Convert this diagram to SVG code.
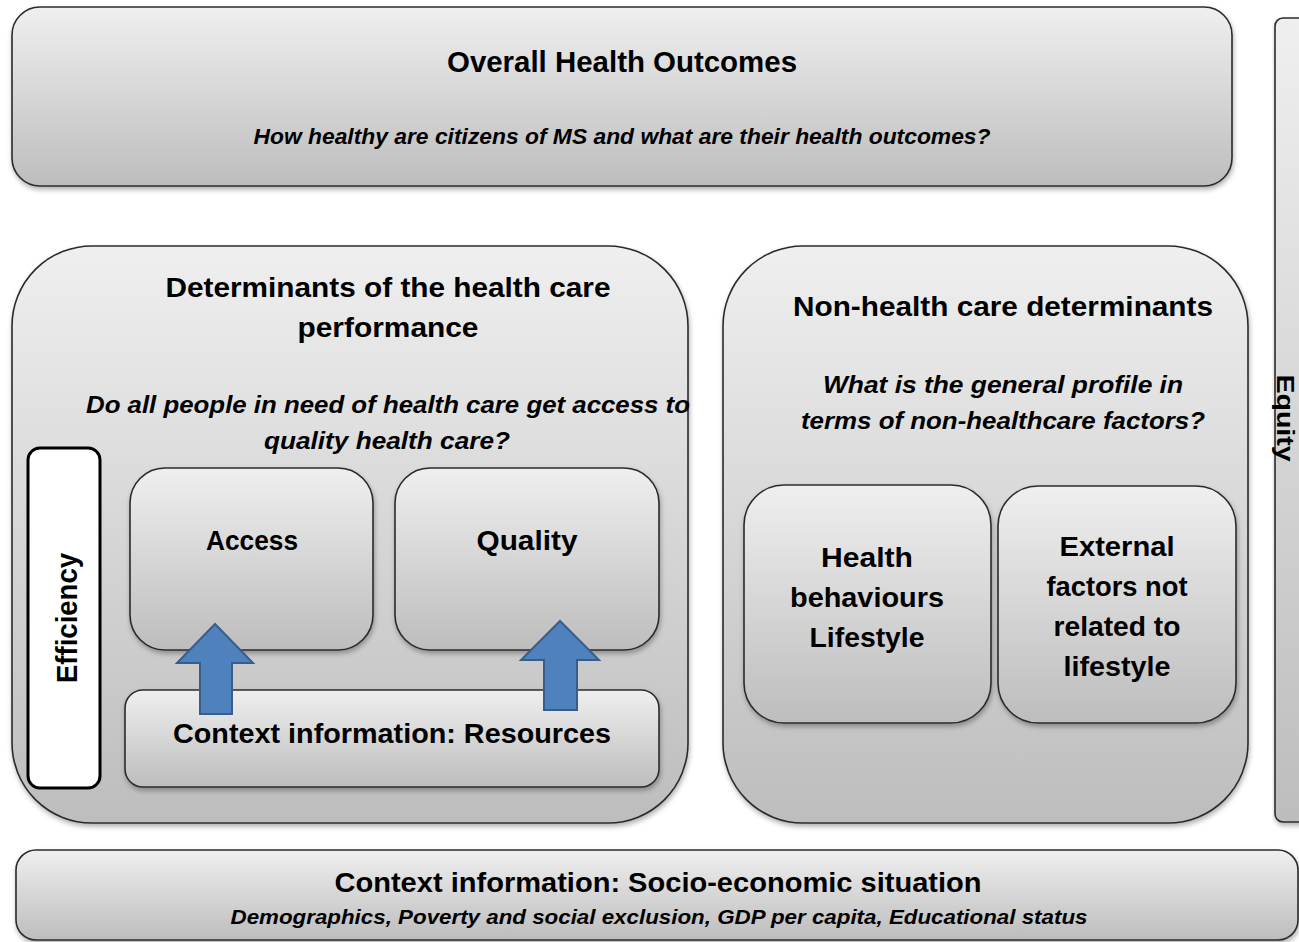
<svg xmlns="http://www.w3.org/2000/svg" width="1299" height="942" viewBox="0 0 1299 942">
<defs>
<linearGradient id="g" x1="0" y1="0" x2="0" y2="1">
<stop offset="0" stop-color="#efefef"/>
<stop offset="1" stop-color="#bdbdbd"/>
</linearGradient>
<filter id="sh" x="-5%" y="-5%" width="110%" height="115%">
<feDropShadow dx="1" dy="3" stdDeviation="2.5" flood-color="#000" flood-opacity="0.3"/>
</filter>
<style>
.box{fill:url(#g);stroke:#2b2b2b;stroke-width:1.6;filter:url(#sh)}
.t{font-family:"Liberation Sans",Arial,sans-serif;font-weight:bold;fill:#000;text-anchor:middle}
.q{font-family:"Liberation Sans",Arial,sans-serif;font-weight:bold;font-style:italic;fill:#000;text-anchor:middle}
.arrow{fill:#4f81bd;stroke:#385d8a;stroke-width:2}
</style>
</defs>
<rect width="1299" height="942" fill="#ffffff"/>

<g id="overall">
<rect class="box" x="12" y="7" width="1220" height="179" rx="28"/>
<text class="t" x="622" y="72" font-size="29" textLength="350" lengthAdjust="spacingAndGlyphs">Overall Health Outcomes</text>
<text class="q" x="622" y="144" font-size="22" textLength="737" lengthAdjust="spacingAndGlyphs">How healthy are citizens of MS and what are their health outcomes?</text>
</g>

<g id="equity">
<rect class="box" x="1275" y="18" width="60" height="804" rx="8"/>
<text class="t" x="1277" y="418" font-size="23" textLength="87" lengthAdjust="spacingAndGlyphs" transform="rotate(90 1277 418)">Equity</text>
</g>

<g id="determinants">
<rect class="box" x="12" y="246" width="676" height="577" rx="80"/>
<text class="t" x="388" y="297" font-size="28" textLength="445" lengthAdjust="spacingAndGlyphs">Determinants of the health care</text>
<text class="t" x="388" y="337" font-size="28" textLength="181" lengthAdjust="spacingAndGlyphs">performance</text>
<text class="q" x="388" y="413" font-size="23" textLength="604" lengthAdjust="spacingAndGlyphs">Do all people in need of health care get access to</text>
<text class="q" x="387" y="449" font-size="23" textLength="246" lengthAdjust="spacingAndGlyphs">quality health care?</text>
</g>

<g id="efficiency">
<rect x="28" y="448" width="72" height="340" rx="12" fill="#ffffff" stroke="#000" stroke-width="3"/>
<text class="t" x="77" y="618" font-size="30" textLength="130" lengthAdjust="spacingAndGlyphs" transform="rotate(-90 77 618)">Efficiency</text>
</g>

<g id="access">
<rect class="box" x="130" y="468" width="243" height="182" rx="35"/>
<text class="t" x="252" y="550" font-size="28" textLength="92" lengthAdjust="spacingAndGlyphs">Access</text>
</g>

<g id="quality">
<rect class="box" x="395" y="468" width="264" height="182" rx="35"/>
<text class="t" x="527" y="550" font-size="28" textLength="101" lengthAdjust="spacingAndGlyphs">Quality</text>
</g>

<g id="resources">
<rect class="box" x="125" y="690" width="534" height="97" rx="18"/>
<text class="t" x="392" y="743" font-size="28" textLength="438" lengthAdjust="spacingAndGlyphs">Context information: Resources</text>
</g>

<g id="nonhealth">
<rect class="box" x="723" y="246" width="525" height="577" rx="80"/>
<text class="t" x="1003" y="316" font-size="28" textLength="420" lengthAdjust="spacingAndGlyphs">Non-health care determinants</text>
<text class="q" x="1003" y="393" font-size="23" textLength="360" lengthAdjust="spacingAndGlyphs">What is the general profile in</text>
<text class="q" x="1003" y="429" font-size="23" textLength="404" lengthAdjust="spacingAndGlyphs">terms of non-healthcare factors?</text>
</g>

<g id="behaviours">
<rect class="box" x="744" y="485" width="247" height="238" rx="40"/>
<text class="t" x="867" y="567" font-size="28" textLength="92" lengthAdjust="spacingAndGlyphs">Health</text>
<text class="t" x="867" y="607" font-size="28" textLength="154" lengthAdjust="spacingAndGlyphs">behaviours</text>
<text class="t" x="867" y="647" font-size="28" textLength="115" lengthAdjust="spacingAndGlyphs">Lifestyle</text>
</g>

<g id="external">
<rect class="box" x="998" y="486" width="238" height="237" rx="40"/>
<text class="t" x="1117" y="556" font-size="28" textLength="115" lengthAdjust="spacingAndGlyphs">External</text>
<text class="t" x="1117" y="596" font-size="28" textLength="141" lengthAdjust="spacingAndGlyphs">factors not</text>
<text class="t" x="1117" y="636" font-size="28" textLength="127" lengthAdjust="spacingAndGlyphs">related to</text>
<text class="t" x="1117" y="676" font-size="28" textLength="107" lengthAdjust="spacingAndGlyphs">lifestyle</text>
</g>

<g id="socioeconomic">
<rect class="box" x="16" y="850" width="1282" height="90" rx="20"/>
<text class="t" x="658" y="892" font-size="28" textLength="647" lengthAdjust="spacingAndGlyphs">Context information: Socio-economic situation</text>
<text class="q" x="659" y="924" font-size="21" textLength="857" lengthAdjust="spacingAndGlyphs">Demographics, Poverty and social exclusion, GDP per capita, Educational status</text>
</g>

<g id="connectors">
<path class="arrow" d="M200,714 L200,663 L177,663 L215,624 L253,663 L232,663 L232,714 Z"/>
<path class="arrow" d="M544,710 L544,660 L521,660 L560,621 L599,660 L577,660 L577,710 Z"/>
</g>
</svg>
